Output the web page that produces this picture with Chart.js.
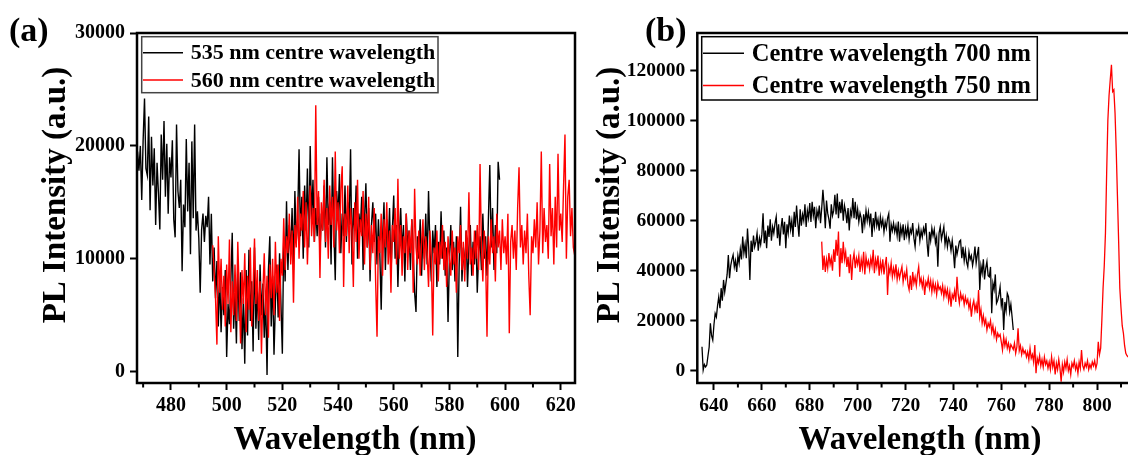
<!DOCTYPE html>
<html><head><meta charset="utf-8">
<script src="https://cdn.jsdelivr.net/npm/chart.js@4.4.1/dist/chart.umd.min.js"></script>
<style>
html,body{margin:0;padding:0;background:#fff;overflow:hidden;width:1128px;height:455px;position:relative;}
#wa{position:absolute;left:0;top:0;width:580px;height:455px;}
#wb{position:absolute;left:580px;top:0;width:560px;height:455px;}
canvas{display:block;}
</style></head><body>
<div id="wa"><canvas id="ca" width="580" height="455"></canvas></div>
<div id="wb"><canvas id="cb" width="560" height="455"></canvas></div>
<script>
// ---------------- Panel (a) data ----------------
const wlStepNm = 0.5;
const wlStartA535 = 468;   // 535 nm centre wavelength spectrum starts here
const wlStartA560 = 495;   // 560 nm centre wavelength spectrum starts here
const intensityA535 = [
19500,17800,20000,15200,20500,24200,18000,17400,22600,14300,
20800,16500,19800,13000,18500,15800,12600,21000,17000,22200,
15500,20200,14000,19000,17200,20500,13500,11900,21900,16000,
14500,17000,8900,14800,12800,20600,14200,18500,10400,20400,
13600,21900,12500,14200,11800,7000,12600,14000,11500,13800,
12800,15500,9500,14000,8000,11000,6500,9800,4000,8500,
3500,7500,5000,9000,1300,6000,4200,8000,12300,3800,
7000,2500,9500,4500,8800,2000,6500,700,9000,3200,
10800,4500,8000,1800,11000,3800,7500,2800,9500,5000,
7800,3000,6500,-300,9000,12000,4000,8500,1500,6000,
9500,4800,10500,6000,1600,12000,8000,15100,9000,13000,
10500,14500,9000,16000,11500,13500,19700,12000,15500,10000,
16500,12500,18000,11000,20000,13500,17000,11500,14500,12000,
15500,10500,14000,12500,16500,11000,19000,13000,15000,9500,
19000,12500,8100,16000,13500,17500,10500,14000,12000,16500,
11500,15000,13000,19700,9500,14500,12500,16500,10000,14000,
12500,15500,9000,13500,16700,11000,14500,8000,13000,15000,
11500,14000,9500,13500,10500,5500,12000,15000,9000,13500,
11000,14500,8500,12500,15600,10000,13000,7500,12000,14500,
10500,13000,8000,14000,11000,12500,9000,13500,10500,7000,
5300,12000,10000,13500,8500,12500,10000,14000,9500,16000,
11000,8000,12500,10500,13000,7500,11500,9500,14200,10000,
12500,8500,11000,4400,10000,13000,9000,11500,8000,12000,
1300,9500,14600,8000,11000,9000,12500,7500,11000,13000,
8500,11500,9500,12500,7000,10500,12000,9000,14000,10000,
12000,8500,13500,18300,11000,14500,9000,13000,10500,18600,
17000];
const intensityA560 = [
11200,9000,6500,2400,12000,7000,10000,5500,8500,4000,
9500,6000,11700,3500,8000,5000,9500,4500,11500,7000,
2500,9000,6000,10500,3500,8500,5500,11000,4000,7500,
11800,6000,9000,4500,8000,1600,7000,10500,5000,8500,
3000,9500,6500,10000,5000,11500,7000,9500,4500,10000,
8500,13600,9000,12000,10500,14000,9500,12500,6100,13000,
11000,15500,10000,14000,12500,16000,11000,15000,9500,13500,
16500,12000,14500,11500,23600,13000,16000,8300,15000,12500,
17000,11500,14500,10000,16500,13000,15500,11000,19500,12500,
15000,10500,16000,18200,7500,14000,12000,16500,10500,14500,
12500,7500,15000,11500,17000,10000,13500,12000,16000,9500,
14000,11000,15500,9000,13000,10500,14500,8000,3100,12000,
10500,14000,8500,13500,11000,15000,9500,12500,7000,13000,
11500,14500,9500,17100,10000,13000,8500,12000,10500,14000,
9000,12500,10500,13500,7000,16200,11000,9500,12500,8500,
11500,13500,9000,12000,10500,7500,12500,10000,3200,11000,
9500,12500,8000,11500,10000,13000,9000,11500,7500,12000,
10000,8500,12500,9500,11000,7000,12000,10500,13000,9000,
11500,8000,12500,10000,15900,9500,11000,8500,12500,10000,
13000,9000,18400,11000,8000,12500,10000,3100,12000,9500,
13500,10500,12000,8000,14000,11000,12500,9000,13500,10500,
12000,9500,14000,3400,11500,13000,10000,12500,9000,14500,
18100,11000,13000,9500,12500,10500,14000,8500,5000,12000,
10500,13500,11000,15000,9500,12500,19500,10500,14500,11500,
13000,10000,18400,12000,14500,9500,15500,11000,19300,12500,
14000,11500,16500,21000,10000,15500,17000,12000,14500,11000,
10300];

// ---------------- Panel (b) data ----------------
const wlStartB700 = 635;
const wlStartB750 = 685;
const intensityB700 = [
9600,300,2500,1500,2300,6000,9500,19000,14000,12200,
18500,22900,21500,26000,29500,25000,33000,28000,36300,31500,
35000,38500,46200,37000,42000,44500,46300,41500,44000,39500,
46000,43000,48500,44500,53600,47000,50500,45000,56800,49000,
36300,52000,47500,54000,49500,51500,55000,48000,53000,50500,
54500,62900,51000,56000,49000,58000,53500,60500,52000,57500,
55000,59000,61600,53000,58500,50000,57000,61000,54500,59500,
49000,58500,55000,62000,56500,60000,53500,63500,57500,66000,
59000,53600,64500,58000,62500,60000,66500,57500,64000,61000,
67000,59500,67500,62000,65500,57000,64000,61500,66000,59000,
65000,72300,66000,57000,68000,63000,60500,56800,66500,62000,
64000,70300,62500,70800,61000,67500,63000,68500,60000,66000,
63500,59000,65000,56100,64000,62000,69000,61000,67500,60500,
64500,59500,63000,61000,55000,62500,58500,64000,60000,63500,
59000,62800,53500,61000,57500,63500,58000,60500,56000,61500,
58000,60500,55500,59500,57000,61000,62800,51600,58500,56000,
59000,55500,58000,54000,59600,51600,57500,54500,58500,52200,
57000,54000,58000,52500,56500,55000,59000,53000,49600,56000,
54500,57500,52000,56000,53500,57000,55000,59000,51000,45600,
55500,52000,57000,54000,56500,51000,53500,41600,55000,57600,
52500,55000,57500,50500,54000,49500,53000,51500,48000,52000,
47500,41000,50000,46500,49000,51600,52200,45000,49500,44000,
48000,43500,41500,47500,44500,46000,42000,45000,49600,43000,
46500,49500,32300,42000,39000,44500,36500,41000,43600,38000,
37500,41500,23000,35000,32500,38500,27000,28200,30300,33500,
26000,29000,16300,27500,24000,30900,29600,23500,26500,21600,
16300];
const intensityB750 = [
51600,40300,46000,39500,44500,41000,47000,42500,45000,40000,
48500,43500,52300,46000,55600,37600,49000,43000,51500,44500,
47500,41500,45500,39000,46500,36300,44000,47000,41000,45000,
42500,46000,39500,44500,41000,47500,38500,45500,42000,44000,
40500,45000,42000,48300,39000,44500,41500,46000,38000,43500,
40000,44500,38500,42500,45500,30300,41500,39000,43000,37500,
41000,38000,42500,36500,40000,37000,39500,41600,35500,39000,
37000,40500,34500,32300,38000,32300,39500,35000,37500,34000,
38500,41600,35000,37000,33500,36500,30300,35500,34000,37000,
33000,36000,31500,35500,32000,34500,30500,35000,32500,33500,
31000,34000,29500,33000,30000,32500,28000,31500,25600,30500,
29000,32000,27500,37600,30500,27000,31000,28500,30000,26500,
29500,27000,28500,25000,27500,21600,26000,28000,24000,26500,
23000,32300,21500,24500,19000,22000,18500,20500,16300,19000,
17500,20000,15500,18000,14000,16500,12500,15000,13600,14500,
11500,8300,13500,10000,12500,9000,11000,8000,10500,9500,
8500,11000,7000,9500,17000,8000,10000,6500,9000,7000,
8000,5500,7500,4500,9000,5000,6500,3500,10300,-1000,
5000,3000,6000,2000,4500,1500,5500,2500,4000,1000,
3500,500,5600,1500,4000,-1500,3000,500,4500,1000,
-4400,2500,-500,3500,1000,4500,0,2000,-1500,3000,
1500,4000,500,2500,-1000,3500,1000,8300,2000,500,
3000,1500,4000,500,2500,1000,3500,2000,4000,1000,
3000,11600,6500,9000,20300,33000,42000,55000,79000,100000,
110000,116300,122300,111600,112300,103000,88000,70000,52000,33000,
25000,18000,15000,10000,7000,6000,5500];

// ---------------- Labels / ticks ----------------
const labelA535 = '535 nm centre wavelength';
const labelA560 = '560 nm centre wavelength';
const labelB700 = 'Centre wavelength 700 nm';
const labelB750 = 'Centre wavelength 750 nm';
const xTitleText = 'Wavelength (nm)';
const yTitleText = 'PL Intensity (a.u.)';
const xTicksA = [480, 500, 520, 540, 560, 580, 600, 620];
const minorTicksA = [470, 490, 510, 530, 550, 570, 590, 610];
const yTicksA = [0, 10000, 20000, 30000];
const xTicksB = [640, 660, 680, 700, 720, 740, 760, 780, 800];
const minorTicksB = [650, 670, 690, 710, 730, 750, 770, 790, 810];
const yTicksB = [0, 20000, 40000, 60000, 80000, 100000, 120000];

const FONT = 'Liberation Serif';

function toPoints(start, vals) {
  return vals.map((v, i) => ({ x: start + i * wlStepNm, y: v }));
}

const decorPlugin = {
  id: 'panelDecor',
  afterDraw(chart, args, o) {
    const ctx = chart.ctx, a = chart.chartArea;
    ctx.save();
    ctx.strokeStyle = '#000';
    ctx.lineWidth = 2.5;
    ctx.strokeRect(a.left, a.top, a.right - a.left, a.bottom - a.top);
    const xs = chart.scales.x;
    ctx.lineWidth = 2;
    o.minorTicks.forEach(v => {
      const px = xs.getPixelForValue(v);
      ctx.beginPath(); ctx.moveTo(px, a.bottom); ctx.lineTo(px, a.bottom + 4.5); ctx.stroke();
    });
    ctx.fillStyle = '#000';
    ctx.textAlign = 'left'; ctx.textBaseline = 'alphabetic';
    ctx.font = 'bold 34px "' + FONT + '"';
    ctx.fillText(o.panelLabel, o.panelX, o.panelY);
    ctx.font = 'bold 33px "' + FONT + '"';
    ctx.textAlign = 'center';
    ctx.fillText(xTitleText, o.xTitleX, o.xTitleY);
    ctx.save();
    ctx.translate(o.yTitleX, o.yTitleY);
    ctx.rotate(-Math.PI / 2);
    ctx.fillText(yTitleText, 0, 0);
    ctx.restore();
    const L = o.legend;
    ctx.lineWidth = 1.5; ctx.strokeStyle = L.border;
    ctx.strokeRect(L.x, L.y, L.w, L.h);
    ctx.font = 'bold ' + L.fontSize + 'px "' + FONT + '"';
    ctx.textAlign = 'left'; ctx.textBaseline = 'middle';
    L.items.forEach((idx, r) => {
      const ds = chart.data.datasets[idx];
      const yy = L.rows[r];
      ctx.strokeStyle = ds.borderColor; ctx.lineWidth = 1.5;
      ctx.beginPath(); ctx.moveTo(L.lineX0, yy); ctx.lineTo(L.lineX1, yy); ctx.stroke();
      ctx.fillStyle = '#000';
      ctx.fillText(ds.label, L.textX, yy + 1);
    });
    ctx.restore();
  }
};

function makeChart(canvas, cfg) {
  const tickFont = { family: FONT, weight: 'bold', size: cfg.tickSize };
  return new Chart(canvas, {
    type: 'line',
    data: { datasets: cfg.series.map(s => ({
      label: s.label, data: s.data, borderColor: s.color, backgroundColor: s.color,
      borderWidth: cfg.lineWidth, pointRadius: 0, pointHoverRadius: 0, tension: 0, fill: false, order: s.order
    })) },
    options: {
      responsive: false, animation: false, events: [],
      layout: { padding: { left: 0, right: cfg.padRight, top: 33, bottom: 0 } },
      plugins: { legend: { display: false }, tooltip: { enabled: false }, title: { display: false },
                 panelDecor: cfg.decor },
      scales: {
        x: {
          type: 'linear', min: cfg.xMin, max: cfg.xMax,
          afterBuildTicks: s => { s.ticks = cfg.xTicks.map(v => ({ value: v })); },
          afterFit: s => { s.height = 72; s.paddingLeft = 0; s.paddingRight = 0; },
          ticks: { padding: 4, color: '#000', font: tickFont,
                   maxRotation: 0, minRotation: 0, autoSkip: false, callback: v => String(v) },
          grid: { display: true, drawOnChartArea: false, drawTicks: true, tickLength: 7,
                  tickWidth: 2, tickColor: '#000', color: '#000' },
          border: { display: false }
        },
        y: {
          type: 'linear', min: cfg.yMin, max: cfg.yMax,
          afterBuildTicks: s => { s.ticks = cfg.yTicks.map(v => ({ value: v })); },
          afterFit: s => { s.width = cfg.yWidth; s.paddingTop = 0; s.paddingBottom = 0; },
          ticks: { padding: 5, color: '#000', font: tickFont, autoSkip: false,
                   callback: v => String(v) },
          grid: { display: true, drawOnChartArea: false, drawTicks: true, tickLength: 7,
                  tickWidth: 2, tickColor: '#000', color: '#000' },
          border: { display: false }
        }
      }
    },
    plugins: [decorPlugin]
  });
}

makeChart(document.getElementById('ca'), {
  tickSize: 20, padRight: 5, yWidth: 137, lineWidth: 1.4,
  xMin: 467.8, xMax: 625.1, yMin: -1000, yMax: 30000,
  xTicks: xTicksA, yTicks: yTicksA,
  series: [
    { label: labelA535, data: toPoints(wlStartA535, intensityA535), color: '#000000', order: 1 },
    { label: labelA560, data: toPoints(wlStartA560, intensityA560), color: '#ff0000', order: 0 }
  ],
  decor: {
    minorTicks: minorTicksA, panelLabel: '(a)', panelX: 9, panelY: 41,
    xTitleX: 355, xTitleY: 449, yTitleX: 65, yTitleY: 195,
    legend: { x: 141.7, y: 36.7, w: 296.3, h: 56, border: '#444', fontSize: 22,
              rows: [52.7, 80], lineX0: 143, lineX1: 183, textX: 190.7, items: [0, 1] }
  }
});

makeChart(document.getElementById('cb'), {
  tickSize: 19.5, padRight: 10, yWidth: 117.3, lineWidth: 1.3,
  xMin: 633.04, xMax: 813.75, yMin: -4900, yMax: 135000,
  xTicks: xTicksB, yTicks: yTicksB,
  series: [
    { label: labelB700, data: toPoints(wlStartB700, intensityB700), color: '#000000', order: 1 },
    { label: labelB750, data: toPoints(wlStartB750, intensityB750), color: '#ff0000', order: 0 }
  ],
  decor: {
    minorTicks: minorTicksB, panelLabel: '(b)', panelX: 65, panelY: 41,
    xTitleX: 340, xTitleY: 449, yTitleX: 39, yTitleY: 195,
    legend: { x: 121.7, y: 36.7, w: 335.6, h: 63.3, border: '#000', fontSize: 24.5,
              rows: [53.3, 85.5], lineX0: 123, lineX1: 164, textX: 171.7, items: [0, 1] }
  }
});
</script>
</body></html>
